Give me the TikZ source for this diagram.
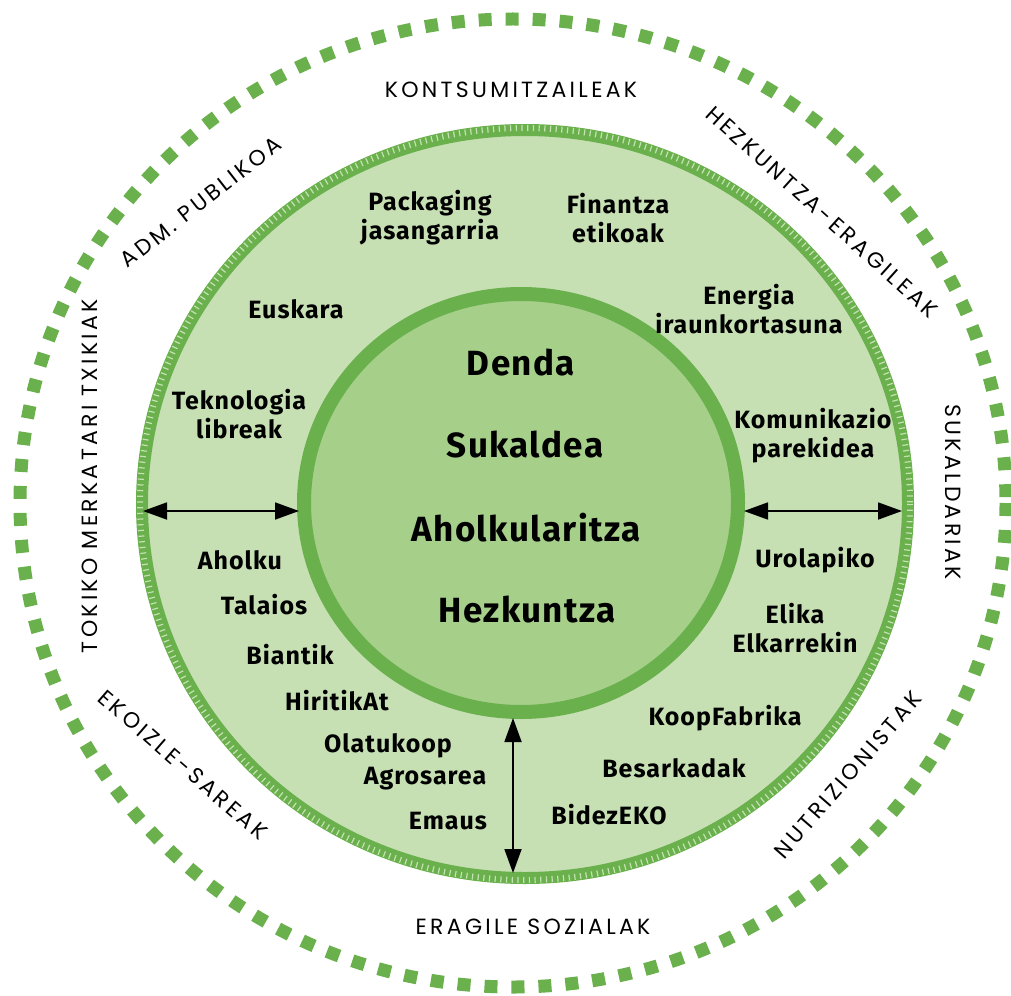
\documentclass[tikz,border=0pt]{standalone}
\usepackage{fontspec}
\setmainfont{Fira Sans}[LetterSpace=4]
\newfontfamily\actorfont{Poppins}[LetterSpace=15]
\usepackage{tikz}
\usetikzlibrary{positioning, arrows.meta}

\definecolor{ringgreen}{RGB}{106,176,76}
\definecolor{palegreen}{RGB}{198,224,180}
\definecolor{coregreen}{RGB}{166,207,138}
\definecolor{tickgreen}{RGB}{196,226,178}

\begin{document}
\begin{tikzpicture}[x=1pt, y=-1pt, line cap=round, line join=round,
    core/.style={font=\bfseries\fontsize{35}{40}\selectfont},
    item/.style={font=\bfseries\fontsize{25}{29}\selectfont, align=center},
    actor/.style={font=\actorfont\fontsize{22}{24}\selectfont},
    link/.style={{Triangle[length=24pt,width=17pt]}-{Triangle[length=24pt,width=17pt]}, line width=1.8pt, black},
    dots/.style={ringgreen, line width=13pt, line cap=butt, dash pattern=on 13pt off 14pt}]
                \useasboundingbox (0,0) rectangle (1011,995);
                % outer dotted ring
                \draw[dots] (513,503) ellipse [x radius=493, y radius=484];
                % middle disc with ruler ring
                \draw[ringgreen, line width=12pt, fill=palegreen] (525,504) ellipse [x radius=383, y radius=374];
                \draw[tickgreen, line width=6pt, line cap=butt, dash pattern=on 1.2pt off 4.5pt] (525,504) ellipse [x radius=385, y radius=376];
                % inner disc
                \draw[ringgreen, line width=14pt, fill=coregreen] (521,503) ellipse [x radius=217, y radius=209];
                % arrow ends
                \coordinate (westOut) at (143,511);
                \coordinate (westIn)  at (299,511);
                \coordinate (eastIn)  at (744,511);
                \coordinate (eastOut) at (902,511);
                \coordinate (southIn)  at (513,718);
                \coordinate (southOut) at (513,873);
                \draw[link] (westOut) -- (westIn);
                \draw[link] (eastIn) -- (eastOut);
                \draw[link] (southIn) -- (southOut);
                % core activities
                \node[core] (denda)    at (521,363) {Denda};
                \node[core] (sukaldea) at (525,445) {Sukaldea};
                \node[core] (aholku)   at (526,528) {Aholkularitza};
                \node[core] (hezk)     at (527,610) {Hezkuntza};
                % middle ring items
                \node[item] (packaging) at (430,218) {Packaging\\jasangarria};
                \node[item] (finantza)  at (618,218) {Finantza\\etikoak};
                \node[item] (energia)   at (749,309) {Energia\\iraunkortasuna};
                \node[item] (euskara)   at (296,309) {Euskara};
                \node[item] (tekno)     at (239,414) {Teknologia\\libreak};
                \node[item] (komun)     at (813,436) {Komunikazio\\parekidea};
                \node[item] (aholkuN)   at (240,560) {Aholku};
                \node[item] (talaios)   at (264,605) {Talaios};
                \node[item] (biantik)   at (290,655) {Biantik};
                \node[item] (hiritik)   at (337,701) {HiritikAt};
                \node[item] (olatu)     at (388,746) {Olatukoop};
                \node[item] (agro)      at (425,779) {Agrosarea};
                \node[item] (emaus)     at (448,821) {Emaus};
                \node[item] (urola)     at (815,560) {Urolapiko};
                \node[item] (elika)     at (795,628) {Elika\\Elkarrekin};
                \node[item] (koop)      at (725,718) {KoopFabrika};
                \node[item] (besark)    at (674,768) {Besarkadak};
                \node[item] (bidez)     at (609,815) {BidezEKO};
                % outer actors
                \node[actor] (kontsu) at (511,90) {KONTSUMITZAILEAK};
                \node[actor] (eragile) at (533,927) {ERAGILE SOZIALAK};
                \node[actor, rotate=-42] (hezkEr) at (822,212) {HEZKUNTZA-ERAGILEAK};
                \node[actor, rotate=38] (adm) at (201,202) {ADM. PUBLIKOA};
                \node[actor, rotate=90] (tokiko) at (90,476) {TOKIKO MERKATARI TXIKIAK};
                \node[actor, rotate=-90] (sukald) at (953,492) {SUKALDARIAK};
                \node[actor, rotate=-41] (ekoizle) at (183,765) {EKOIZLE-SAREAK};
                \node[actor, rotate=49] (nutri) at (848,775) {NUTRIZIONISTAK};
        \end{tikzpicture}
\end{document}
